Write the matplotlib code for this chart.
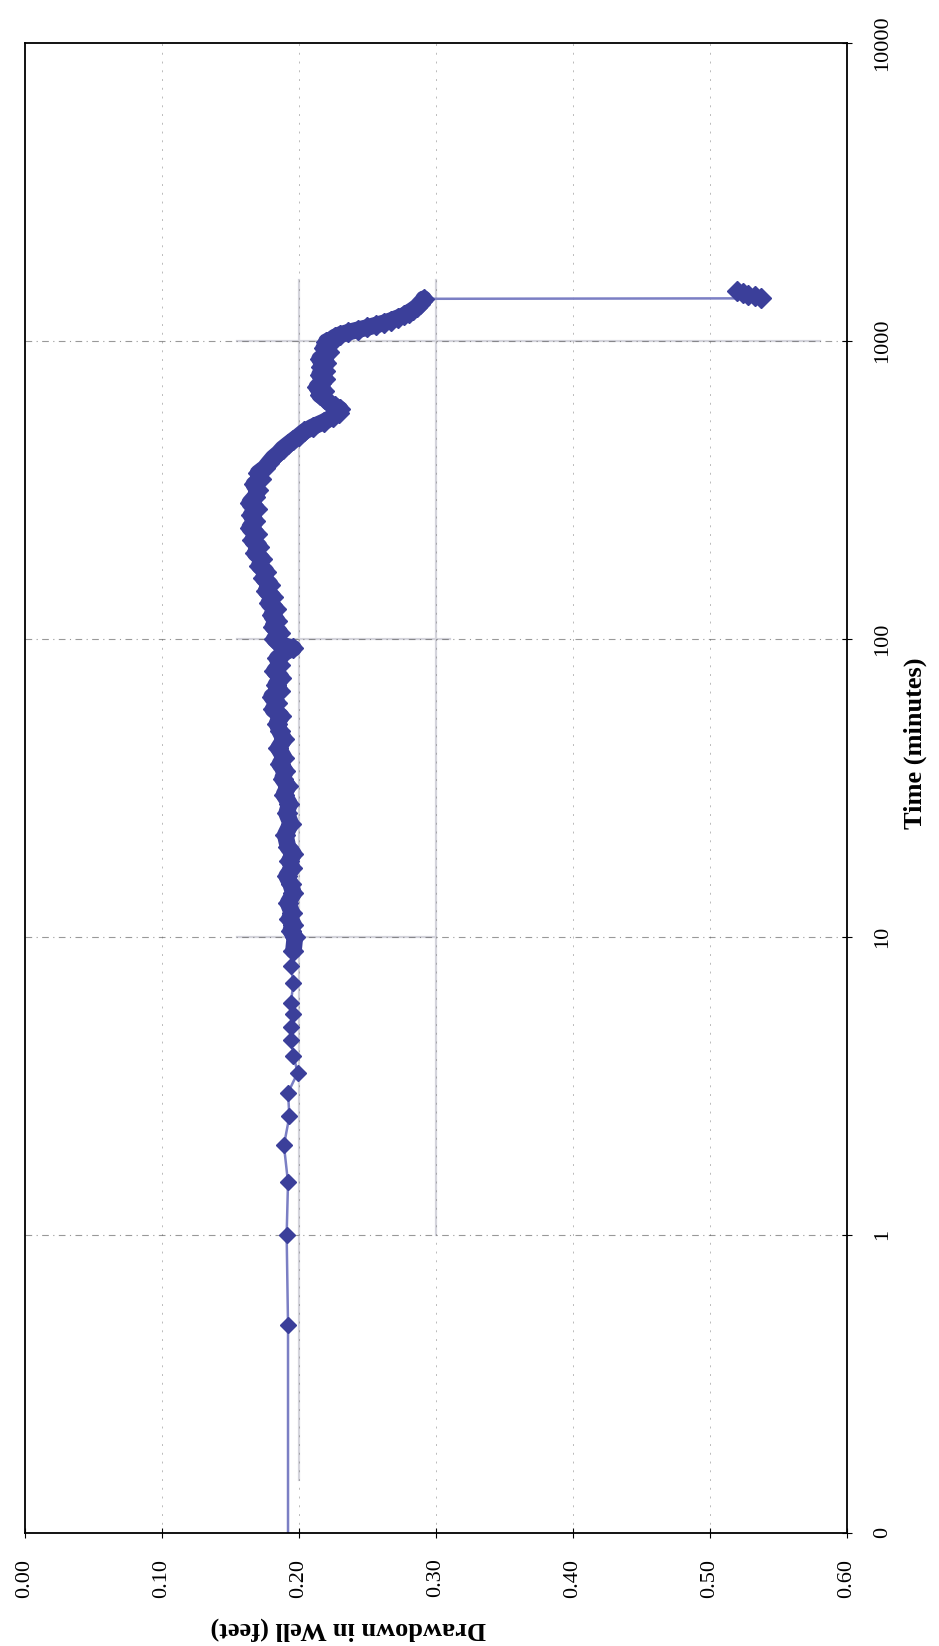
import matplotlib
matplotlib.use("Agg")
import matplotlib.pyplot as plt

# Drawdown test data (page is scanned sideways: drawdown runs left->right, time bottom->top)
time_min = [
    0.1, 0.5, 1, 1.5, 2, 2.5, 3, 3.5, 4, 4.5, 5, 5.5, 6, 7, 8, 9,
    10, 10.5, 11, 11.5, 12, 13, 14, 15, 16, 17, 18, 19, 20, 22, 24, 26, 28,
    30, 32, 34, 36, 38, 40, 43, 46, 49, 52, 55, 58, 61, 64, 67, 70, 74, 78,
    82, 86, 90, 93, 96, 100, 105, 110, 115, 120, 126, 132, 138, 145, 152,
    160, 168, 176, 185, 194, 204, 214, 225, 236, 248, 260, 273, 286, 300,
    315, 330, 345, 360, 375, 390, 405, 420, 435, 450, 465, 480, 497, 515,
    535, 557, 575, 590, 605, 620, 640, 660, 680, 700, 720, 745, 770, 795,
    820, 845, 870, 895, 920, 945, 970, 995, 1010, 1030, 1050, 1070, 1090,
    1110, 1130, 1150, 1170, 1195, 1220, 1245, 1270, 1300, 1330, 1360, 1385,
    1390, 1410, 1430, 1450, 1470,
]
drawdown_ft = [
    0.192, 0.192, 0.191, 0.192, 0.189, 0.193, 0.192, 0.199, 0.196, 0.194,
    0.194, 0.196, 0.194, 0.196, 0.194, 0.196,
    0.197, 0.194, 0.196, 0.193, 0.195, 0.192, 0.196, 0.194, 0.191, 0.195,
    0.193, 0.196, 0.192, 0.190, 0.194, 0.191, 0.193,
    0.189, 0.192, 0.188, 0.190, 0.186, 0.189, 0.185, 0.189, 0.186, 0.184,
    0.187, 0.181, 0.184, 0.180, 0.186, 0.183, 0.187, 0.182,
    0.186, 0.184, 0.189, 0.196, 0.186, 0.182, 0.186, 0.181, 0.184, 0.180,
    0.183, 0.178, 0.181, 0.176, 0.179,
    0.174, 0.176, 0.171, 0.173, 0.168, 0.171, 0.166, 0.169, 0.164, 0.168,
    0.165, 0.169, 0.164, 0.168,
    0.170, 0.167, 0.172, 0.170, 0.175, 0.178, 0.181, 0.185, 0.188, 0.192,
    0.196, 0.200, 0.204, 0.210,
    0.218, 0.225, 0.229, 0.230, 0.226, 0.222, 0.219, 0.215, 0.218, 0.213,
    0.216, 0.219, 0.215, 0.219,
    0.216, 0.220, 0.215, 0.219, 0.222, 0.218, 0.222, 0.220, 0.224, 0.226,
    0.230, 0.236, 0.243,
    0.250, 0.256, 0.262, 0.267, 0.272, 0.277, 0.280, 0.283, 0.286, 0.288,
    0.290, 0.291,
    0.537, 0.533, 0.528, 0.524, 0.520,
]

dd_ticks = [0.0, 0.1, 0.2, 0.3, 0.4, 0.5, 0.6]
dd_labels = ["0.00", "0.10", "0.20", "0.30", "0.40", "0.50", "0.60"]
time_ticks = [0.1, 1, 10, 100, 1000, 10000]
time_labels = ["0", "1", "10", "100", "1000", "10000"]

plt.rcParams['font.family'] = ['Liberation Serif', 'DejaVu Serif']

fig = plt.figure(figsize=(9.39, 16.46), dpi=100)
ax = fig.add_axes([0.0266, 0.0687, 0.8754, 0.9052])

# faint ghost grid visible on the scan
ghost = '#d4d4dc'
ax.plot([0.2, 0.2], [0.15, 1600], color=ghost, lw=1.6, zorder=1)
ax.plot([0.3, 0.3], [1.0, 1600], color=ghost, lw=1.6, zorder=1)
ax.plot([0.155, 0.58], [1000, 1000], color=ghost, lw=1.6, zorder=1)
ax.plot([0.155, 0.31], [100, 100], color=ghost, lw=1.6, zorder=1)
ax.plot([0.155, 0.30], [10, 10], color=ghost, lw=1.6, zorder=1)

# dotted major gridlines
for v in dd_ticks[1:-1]:
    ax.axvline(v, color='#777777', lw=0.7, ls=(0, (2, 7)), alpha=0.5, zorder=1)
for v in time_ticks[1:-1]:
    ax.axhline(v, color='#555555', lw=0.8, ls=(0, (6, 4, 1, 4)), alpha=0.6, zorder=1)

mcol = '#3b3f9a'
# connecting line of the series
ax.plot(drawdown_ft, time_min, color='#7b7fc4', lw=1.8, zorder=2)
# the dense 1-minute readings merge into a thick band
n_dense = time_min.index(9)
n_end = time_min.index(1385) + 1
ax.plot(drawdown_ft[n_dense:n_end], time_min[n_dense:n_end], color=mcol,
        lw=12, solid_joinstyle='round', solid_capstyle='round', zorder=3)
ax.plot(drawdown_ft[1:n_dense], time_min[1:n_dense], ls='none', marker='D', ms=8,
        color=mcol, mec=mcol, zorder=4)
ax.plot(drawdown_ft[n_dense:], time_min[n_dense:], ls='none', marker='D', ms=10,
        color=mcol, mec=mcol, zorder=4)

ax.set_xlim(0, 0.6)
ax.set_yscale('log')
ax.set_ylim(0.1, 10000)

ax.set_xticks(dd_ticks)
ax.set_xticklabels(dd_labels, rotation=90, fontsize=16)
ax.yaxis.tick_right()
ax.set_yticks(time_ticks)
ax.set_yticklabels(time_labels, rotation=90, fontsize=16, va='center')
ax.yaxis.set_minor_locator(matplotlib.ticker.NullLocator())
ax.tick_params(axis='x', direction='inout', length=7, width=0.8, pad=15)
ax.tick_params(axis='y', direction='inout', length=7, width=0.8, pad=15)

for sp in ax.spines.values():
    sp.set_linewidth(1.3)
    sp.set_color('black')

ax.set_xlabel('Drawdown in Well (feet)', fontsize=19, fontweight='bold', rotation=180)
ax.xaxis.set_label_coords(0.393, -0.064)
ax.xaxis.label.set_va('center')
ax.set_ylabel('Time (minutes)', fontsize=19, fontweight='bold', rotation=90)
ax.yaxis.set_label_position('right')
ax.yaxis.set_label_coords(1.083, 0.53)
ax.yaxis.label.set_ha('center')
ax.yaxis.label.set_va('center')

fig.savefig('out.png', dpi=100)
